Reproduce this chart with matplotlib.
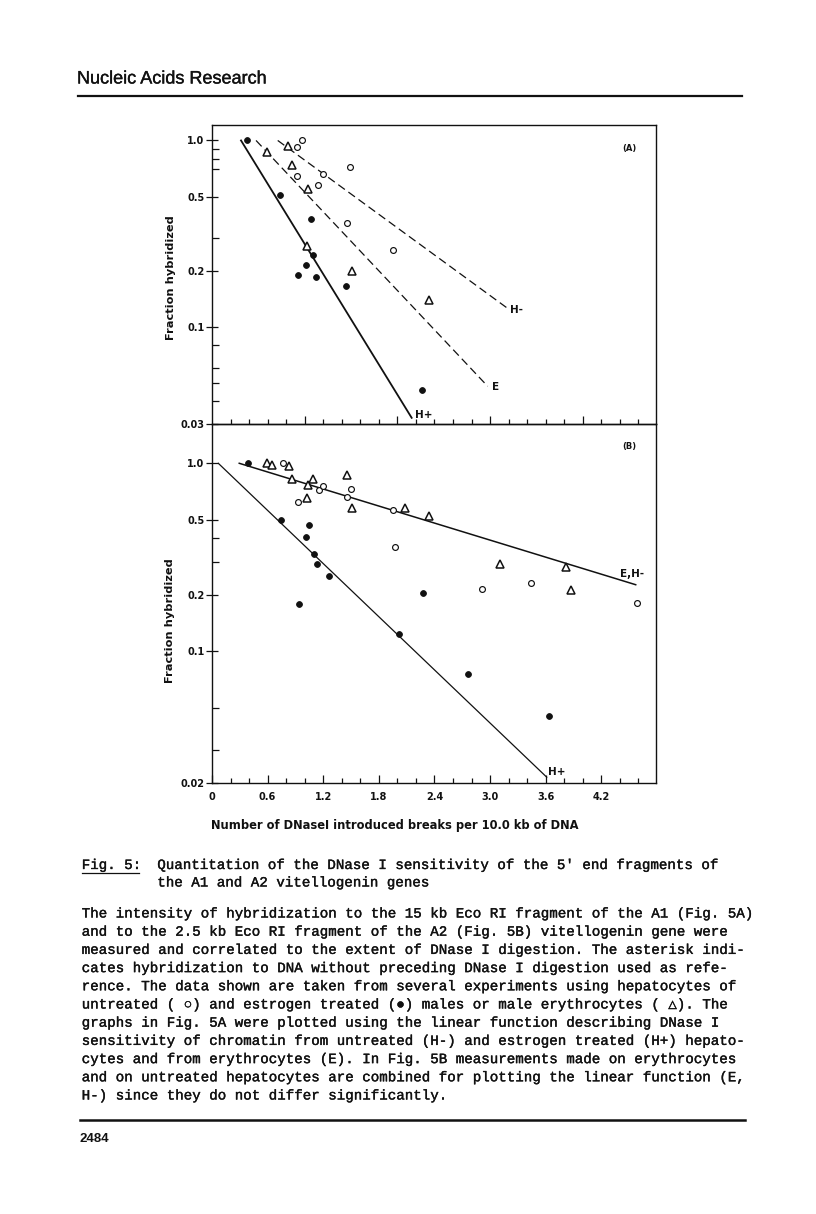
# Fig. 5 page (Nucleic Acids Research p. 2484): DNase I sensitivity of vitellogenin genes
import matplotlib
matplotlib.use('Agg')
import matplotlib.pyplot as plt
import matplotlib.patheffects as pe
from matplotlib.ticker import FixedLocator, FixedFormatter, NullFormatter
from matplotlib.lines import Line2D

W, H = 816, 1214

####################### data #######################################################

# panel A (A1 gene, 15 kb Eco RI fragment)
a_hplus_x = [0.381, 0.734, 1.065, 1.09, 1.017, 0.928, 1.122, 1.442, 2.269]
a_hplus_y = [1.0, 0.51, 0.378, 0.242, 0.214, 0.19, 0.184, 0.165, 0.046]
a_hminus_x = [0.971, 0.914, 0.92, 1.194, 1.147, 1.492, 1.453, 1.953]
a_hminus_y = [1.0, 0.92, 0.647, 0.658, 0.577, 0.72, 0.36, 0.259]
a_ery_x = [0.817, 0.597, 0.86, 1.039, 1.028, 1.507, 2.344]
a_ery_y = [0.937, 0.87, 0.741, 0.547, 0.272, 0.2, 0.139]

# fitted lines of panel A (end points)
a_fit_hplus_x = [0.313, 2.154]
a_fit_hplus_y = [1.0, 0.0325]
a_fit_e_x = [0.475, 2.974]
a_fit_e_y = [1.0, 0.048]
a_fit_hminus_x = [0.709, 3.186]
a_fit_hminus_y = [1.0, 0.126]

# panel B (A2 gene, 2.5 kb Eco RI fragment)
b_hplus_x = [0.385, 0.741, 1.046, 1.017, 1.1, 1.129, 1.262, 0.939, 2.273, 2.017, 2.758, 3.635]
b_hplus_y = [1.0, 0.498, 0.467, 0.406, 0.328, 0.291, 0.252, 0.179, 0.205, 0.124, 0.0754, 0.0455]
b_hminus_x = [0.763, 0.924, 1.151, 1.197, 1.453, 1.499, 1.953, 1.977, 2.909, 3.441, 4.585]
b_hminus_y = [1.0, 0.624, 0.72, 0.757, 0.661, 0.73, 0.566, 0.359, 0.215, 0.231, 0.181]
b_ery_x = [0.597, 0.644, 0.834, 0.866, 1.086, 1.039, 1.022, 1.456, 1.507, 2.085, 2.341, 3.107, 3.816, 3.876]
b_ery_y = [1.0, 0.984, 0.968, 0.825, 0.822, 0.766, 0.653, 0.866, 0.577, 0.577, 0.526, 0.29, 0.282, 0.213]

b_fit_ehminus_x = [0.294, 4.571]
b_fit_ehminus_y = [1.0, 0.226]
b_fit_hplus_x = [0.068, 3.611]
b_fit_hplus_y = [1.0, 0.0214]

# axis ticks
a_yticks = [1.0, 0.5, 0.2, 0.1, 0.03]
a_yticklabels = ['1.0', '0.5', '0.2', '0.1', '0.03']
a_yminor = [0.9, 0.8, 0.7, 0.3, 0.08, 0.06, 0.05, 0.04]
b_yticks = [1.0, 0.5, 0.2, 0.1, 0.02]
b_yticklabels = ['1.0', '0.5', '0.2', '0.1', '0.02']
b_yminor = [0.4, 0.3, 0.05, 0.03]
a_xticks = [1, 2, 3, 4]
b_xticks = [0, 0.6, 1.2, 1.8, 2.4, 3.0, 3.6, 4.2]
b_xticklabels = ['0', '0.6', '1.2', '1.8', '2.4', '3.0', '3.6', '4.2']
x_minor = [0.2, 0.4, 0.6, 0.8, 1.0, 1.2, 1.4, 1.6, 1.8, 2.0, 2.2, 2.4,
           2.6, 2.8, 3.0, 3.2, 3.4, 3.6, 3.8, 4.0, 4.2, 4.4, 4.6]

# page text
header = 'Nucleic Acids Research'
caption_tag = 'Fig. 5:'
caption_lines = ["Quantitation of the DNase I sensitivity of the 5' end fragments of",
                 'the A1 and A2 vitellogenin genes']
body_lines = [
    'The intensity of hybridization to the 15 kb Eco RI fragment of the A1 (Fig. 5A)',
    'and to the 2.5 kb Eco RI fragment of the A2 (Fig. 5B) vitellogenin gene were',
    'measured and correlated to the extent of DNase I digestion. The asterisk indi-',
    'cates hybridization to DNA without preceding DNase I digestion used as refe-',
    'rence. The data shown are taken from several experiments using hepatocytes of',
    'untreated ( \u25cb) and estrogen treated (\u25cf) males or male erythrocytes ( \u25b3). The',
    'graphs in Fig. 5A were plotted using the linear function describing DNase I',
    'sensitivity of chromatin from untreated (H-) and estrogen treated (H+) hepato-',
    'cytes and from erythrocytes (E). In Fig. 5B measurements made on erythrocytes',
    'and on untreated hepatocytes are combined for plotting the linear function (E,',
    'H-) since they do not differ significantly.',
]
page_number = '2484'

INK = '#111111'
PLOT_FONT = ['Liberation Sans Narrow', 'DejaVu Sans']
MONO_FONT = ['Liberation Mono', 'DejaVu Sans Mono', 'DejaVu Sans']
# typewriter ink is a little heavier than Courier
INKED = [pe.withStroke(linewidth=0.25, foreground=INK)]


def fx(px):
    return px / W


def fy(py):
    return 1 - py / H


def hrule(fig, x0, x1, y, lw):
    fig.add_artist(Line2D([fx(x0), fx(x1)], [fy(y), fy(y)], color=INK, lw=lw,
                          transform=fig.transFigure))


def scatter_sets(ax, hplus, hminus, ery):
    # filled = estrogen treated, open circle = untreated, triangle = erythrocytes
    ax.plot(*hplus, ls='none', marker='o', ms=4.2, mfc=INK, mec=INK, mew=0.6)
    ax.plot(*hminus, ls='none', marker='o', ms=4.2, mfc='white', mec=INK, mew=0.85)
    ax.plot(*ery, ls='none', marker='^', ms=5.2, mfc='white', mec=INK, mew=1.1)


def style_axis(ax, ylim, yticks, ylabels, yminor, xmajor):
    ax.set_yscale('log')
    ax.set_xlim(0, 4.79)
    ax.set_ylim(*ylim)
    ax.yaxis.set_major_locator(FixedLocator(yticks))
    ax.yaxis.set_major_formatter(FixedFormatter(ylabels))
    ax.yaxis.set_minor_locator(FixedLocator(yminor))
    ax.yaxis.set_minor_formatter(NullFormatter())
    ax.xaxis.set_major_locator(FixedLocator(xmajor))
    ax.xaxis.set_minor_locator(FixedLocator(x_minor))
    ax.tick_params(axis='y', which='major', direction='inout', length=8, width=0.9,
                   pad=1.5, labelsize=7, colors=INK)
    ax.tick_params(axis='y', which='minor', direction='in', length=5, width=0.9, colors=INK)
    ax.tick_params(axis='x', which='major', direction='in', length=6, width=0.9,
                   pad=7, labelsize=7, colors=INK)
    ax.tick_params(axis='x', which='minor', direction='in', length=3.5, width=0.9, colors=INK)
    for s in ax.spines.values():
        s.set_linewidth(1.0)
        s.set_color(INK)
    ax.set_facecolor('none')


fig = plt.figure(figsize=(W / 100, H / 100), dpi=100)

####################### panel A #####################################
axA = fig.add_axes([fx(212), fy(424.3), (656 - 212) / W, (424.3 - 124.7) / H])
style_axis(axA, (0.03, 1.215), a_yticks, a_yticklabels, a_yminor, a_xticks)
axA.xaxis.set_major_formatter(NullFormatter())
axA.plot(a_fit_hplus_x, a_fit_hplus_y, color=INK, lw=1.3)
axA.plot(a_fit_e_x, a_fit_e_y, color=INK, lw=0.9, dashes=(6.5, 3.5))
axA.plot(a_fit_hminus_x, a_fit_hminus_y, color=INK, lw=0.9, dashes=(6.5, 3.5))
scatter_sets(axA, (a_hplus_x, a_hplus_y), (a_hminus_x, a_hminus_y), (a_ery_x, a_ery_y))
lab = dict(family=PLOT_FONT, weight='bold', fontsize=7.5, color=INK, va='center', ha='left')
axA.text(3.215, 0.123, 'H-', **lab)
axA.text(3.02, 0.0478, 'E', **lab)
axA.text(2.19, 0.0337, 'H+', **lab)
axA.text(0.941, 0.922, '(A)', transform=axA.transAxes, family=PLOT_FONT, weight='bold',
         fontsize=6, color=INK, ha='center', va='center')

####################### panel B #####################################
axB = fig.add_axes([fx(212), fy(782.7), (656 - 212) / W, (782.7 - 424.3) / H])
style_axis(axB, (0.02, 1.612), b_yticks, b_yticklabels, b_yminor, b_xticks)
axB.xaxis.set_major_formatter(FixedFormatter(b_xticklabels))
axB.plot(b_fit_ehminus_x, b_fit_ehminus_y, color=INK, lw=1.1)
axB.plot(b_fit_hplus_x, b_fit_hplus_y, color=INK, lw=0.9)
scatter_sets(axB, (b_hplus_x, b_hplus_y), (b_hminus_x, b_hminus_y), (b_ery_x, b_ery_y))
axB.text(4.40, 0.258, 'E,H-', **lab)
axB.text(3.625, 0.0229, 'H+', **lab)
axB.text(0.941, 0.937, '(B)', transform=axB.transAxes, family=PLOT_FONT, weight='bold',
         fontsize=6, color=INK, ha='center', va='center')

for ax in (axA, axB):
    for t in ax.get_yticklabels() + ax.get_xticklabels():
        t.set_fontfamily(PLOT_FONT)
        t.set_fontweight('bold')

# axis titles
ylab = dict(family=['DejaVu Sans'], weight='bold', fontsize=8.2, color=INK,
            rotation=90, ha='center', va='center')
fig.text(fx(170.7), fy(278), 'Fraction hybridized', **ylab)
fig.text(fx(170), fy(620.5), 'Fraction hybridized', **ylab)
fig.text(fx(394.7), fy(825), 'Number of DNaseI introduced breaks per 10.0 kb of DNA',
         family=['DejaVu Sans'], weight='bold', fontsize=8.3, color=INK,
         ha='center', va='center')

####################### page text #####################################
fig.text(fx(77), fy(83.5), header, family=['Liberation Sans', 'DejaVu Sans'],
         fontsize=13, color=INK, ha='left', va='baseline', path_effects=INKED)
hrule(fig, 78, 742, 96, 1.6)

mono = dict(family=MONO_FONT, fontsize=10.2, color=INK, ha='left', va='baseline',
            path_effects=INKED)
fig.text(fx(81.7), fy(869), caption_tag, **mono)
hrule(fig, 82, 139, 872.5, 0.9)
fig.text(fx(157.3), fy(869), caption_lines[0], **mono)
fig.text(fx(157.3), fy(886.5), caption_lines[1], **mono)
for i, line in enumerate(body_lines):
    fig.text(fx(81.7), fy(917.5 + 18.2 * i), line, **mono)

hrule(fig, 80, 745, 1120, 1.8)
fig.text(fx(80), fy(1142), page_number, family=['Liberation Sans Narrow', 'Liberation Sans'],
         fontsize=9.5, weight='bold', color=INK, ha='left', va='baseline')

fig.savefig('out.png', dpi=100, facecolor='white')
